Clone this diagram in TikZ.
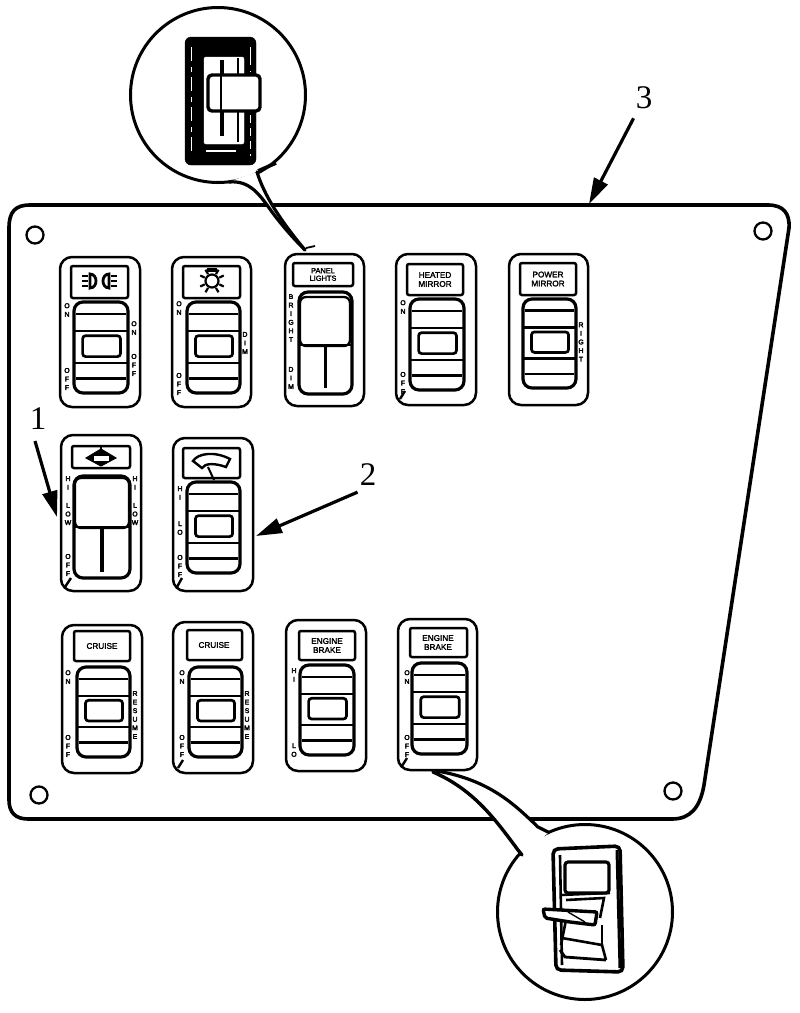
\documentclass[tikz,border=0pt]{standalone}
\usepackage{fontspec}
\setmainfont{Liberation Serif}
\setsansfont{Liberation Sans}
\newfontfamily\blotfont[FakeBold=2.2]{Liberation Sans}
\newfontfamily\sidefont[FakeBold=4]{Liberation Sans}
\usetikzlibrary{arrows.meta}
\tikzset{
  plate/.style={draw=black,line width=2.5pt,fill=white,rounded corners=12pt},
  labelbox/.style={draw=black,line width=2.5pt,fill=white,rounded corners=2pt},
  rockerbox/.style={draw=black,line width=3.2pt,fill=white,rounded corners=9pt},
  rockline/.style={draw=black,line width=2.3pt},
  hole/.style={draw=black,line width=2.3pt,fill=white,circle,minimum size=17pt,inner sep=0pt},
  panel/.style={draw=black,line width=3.6pt,fill=white,line join=round},
  callout/.style={draw=black,line width=3.2pt,line cap=round},
  pointer/.style={draw=black,line width=3.2pt,-{Triangle[length=26pt,width=15pt]}},
  numlabel/.style={font=\fontsize{33}{33}\selectfont,inner sep=0pt,text=black},
  sidetxt/.style={font=\sidefont\fontsize{6.8}{8.6}\selectfont,align=center,inner sep=0pt,text=black},
  captxt/.style={font=\blotfont\fontsize{8.2}{9}\selectfont,align=center,inner sep=0pt,text=black},
  cornermark/.style={draw=black,line width=2.4pt},
}
\newcommand{\swplate}[8]{%
  \draw[plate] (#1,#2) rectangle (#3,#4);
  \draw[labelbox] (#5,#6) rectangle (#7,#8);
}
\newcommand{\rockersw}[4]{%
  \pgfmathsetmacro\wunit{(#3-#1)/100}\pgfmathsetmacro\hunit{(#4-#2)/100}
  \begin{scope}[shift={(#1,#2)},x=\wunit pt,y=-\hunit pt]
    \draw[rockerbox] (0,0) rectangle (100,100);
    \draw[rockline] (4,13) -- (96,13);
    \draw[rockline] (2,32) -- (98,32);
    \draw[rockline,line width=2.7pt,rounded corners=3pt] (16,37) rectangle (86,60);
    \draw[rockline] (2,67) -- (98,67);
    \draw[rockline] (4,84) -- (96,84);
  \end{scope}
}
\newcommand{\slidesw}[5]{%
  \draw[rockerbox] (#1,#2) rectangle (#3,#4);
  \draw[rockline] (#1,#5) -- (#3,#5);
  \draw[line width=3.6pt] ({(#1+#3)/2},#5) -- ({(#1+#3)/2},{#4-6});
}
\begin{document}
\begin{tikzpicture}[x=1pt,y=-1pt]
\useasboundingbox (0,0) rectangle (800,1013);
\fill[white] (0,0) rectangle (800,1013);

% panel
\draw[panel] (9,228) .. controls (9,212) and (15,205) .. (30,205) -- (768,205)
  .. controls (783,205) and (790,213) .. (789,228) -- (704,785)
  .. controls (700,808) and (690,819) .. (672,819) -- (28,819)
  .. controls (15,819) and (9,812) .. (9,800) -- cycle;
\node[hole] (h1) at (35,235) {};
\node[hole] (h2) at (763,231) {};
\node[hole] (h3) at (39,795) {};
\node[hole] (h4) at (673,791) {};

% row 1
\swplate{60}{257}{140}{407}{71}{266}{128}{298}
\rockersw{74}{302}{128}{393}
\draw[line width=2.8pt] (90,274) .. controls (98,274) and (98,288) .. (90,288) -- cycle;
\draw[line width=2.8pt] (109,274) .. controls (101,274) and (101,288) .. (109,288) -- cycle;
\foreach \a in {276,281,286}{\draw[line width=2pt] (82,\a) -- (88,\a); \draw[line width=2pt] (111,\a) -- (117,\a);}
\node[sidetxt] (s1a) at (67,310) {O\\N};
\node[sidetxt] (s1b) at (67,379) {O\\F\\F};
\node[sidetxt] (s1c) at (134,328) {O\\N};
\node[sidetxt] (s1d) at (134,365) {O\\F\\F};

\swplate{172}{257}{251}{407}{183}{266}{240}{298}
\rockersw{187}{302}{240}{393}
\draw[line width=2.2pt,fill=white] (212,281) circle (6.5pt);
\foreach \a in {-60,-25,25,60,120,155,205,240}{\draw[line width=2.2pt] (212,281) ++(\a:8pt) -- ++(\a:5pt);}
\draw[line width=3.4pt] (207,270) -- (217,270);
\node[sidetxt] (s2a) at (179,308) {O\\N};
\node[sidetxt] (s2b) at (179,384) {O\\F\\F};
\node[sidetxt] (s2c) at (245,343) {D\\I\\M};

\swplate{285}{254}{364}{406}{293}{263}{353}{286}
\node[captxt,font=\blotfont\fontsize{7.4}{7.6}\selectfont] (c3) at (323,274.5) {PANEL\\LIGHTS};
\slidesw{299}{292}{352}{394}{345}
\draw[rockline,rounded corners=6pt] (300,297) rectangle (350,346);
\node[sidetxt] (s3a) at (291,318) {B\\R\\I\\G\\H\\T};
\node[sidetxt] (s3b) at (291,378) {D\\I\\M};

\swplate{396}{254}{476}{405}{407}{264}{463}{295}
\rockersw{410}{299}{464}{390}
\node[captxt] (c4) at (435,279.5) {HEATED\\MIRROR};
\node[sidetxt] (s4a) at (403,307) {O\\N};
\node[sidetxt] (s4b) at (403,383) {O\\F\\F};
\draw[cornermark] (400,399) -- (405,391);

\swplate{509}{254}{588}{405}{520}{263}{576}{295}
\rockersw{523}{299}{576}{388}
\node[captxt] (c5) at (548,279) {POWER\\MIRROR};
\node[sidetxt] (s5a) at (581,342) {R\\I\\G\\H\\T};

% row 2
\swplate{61}{435}{141}{591}{72}{446}{130}{468}
\draw[draw=black,line width=1pt,fill=black] (86,458) -- (101,449) -- (116,458) -- (101,466) -- cycle;
\draw[fill=white,draw=white] (94,456) rectangle (108,460);
\draw[line width=2.4pt] (101,446) -- (101,450);
\slidesw{74}{476}{130}{578}{527}
\draw[rockline,rounded corners=6pt] (75,478) rectangle (129,528);
\node[sidetxt] (s6a) at (68,483) {H\\I};
\node[sidetxt] (s6b) at (68,514) {L\\O\\W};
\node[sidetxt] (s6c) at (68,565) {O\\F\\F};
\node[sidetxt] (s6d) at (135,483) {H\\I};
\node[sidetxt] (s6e) at (135,514) {L\\O\\W};
\draw[cornermark] (65,587) -- (71,578);

\swplate{173}{438}{253}{591}{183}{448}{240}{478}
\draw[line width=2.4pt,fill=white] (193,461) .. controls (198,453) and (215,451) .. (230,459) -- (226,467) .. controls (215,463) and (205,463) .. (202,468) -- cycle;
\draw[line width=2pt] (208,467) -- (214,480);
\rockersw{187}{482}{240}{573}
\node[sidetxt] (s7a) at (180,493) {H\\I};
\node[sidetxt] (s7b) at (180,528) {L\\O};
\node[sidetxt] (s7c) at (180,566) {O\\F\\F};
\draw[cornermark] (177,587) -- (182,578);

% row 3
\swplate{62}{625}{142}{773}{74}{631}{130}{661}
\rockersw{77}{667}{130}{757}
\node[captxt] (c8) at (102,646) {CRUISE};
\node[sidetxt] (s8a) at (68,677) {O\\N};
\node[sidetxt] (s8b) at (68,746) {O\\F\\F};
\node[sidetxt] (s8c) at (135,715) {R\\E\\S\\U\\M\\E};

\swplate{173}{622}{253}{773}{187}{630}{242}{660}
\rockersw{189}{667}{242}{757}
\node[captxt] (c9) at (214,645) {CRUISE};
\node[sidetxt] (s9a) at (182,677) {O\\N};
\node[sidetxt] (s9b) at (182,746) {O\\F\\F};
\node[sidetxt] (s9c) at (247,715) {R\\E\\S\\U\\M\\E};
\draw[cornermark] (178,768) -- (183,760);

\swplate{286}{620}{366}{771}{299}{631}{355}{660}
\rockersw{300}{665}{354}{755}
\node[captxt] (c10) at (327,645.5) {ENGINE\\BRAKE};
\node[sidetxt] (s10a) at (294,675) {H\\I};
\node[sidetxt] (s10b) at (294,750) {L\\O};

\swplate{398}{619}{477}{770}{410}{628}{467}{657}
\rockersw{412}{663}{467}{754}
\node[captxt] (c11) at (438,642.5) {ENGINE\\BRAKE};
\node[sidetxt] (s11a) at (407,677) {O\\N};
\node[sidetxt] (s11b) at (407,746) {O\\F\\F};
\draw[cornermark] (402,766) -- (407,758);

% callout top
\draw[line width=3pt,fill=white] (218,95) circle (87.5pt);
\fill[white] (231,181) .. controls (262,182) and (280,228) .. (305,250) .. controls (285,225) and (268,200) .. (257,172) -- cycle;
\draw[callout] (229,182) .. controls (250,180) and (260,195) .. (272,212) .. controls (284,228) and (295,240) .. (305,250);
\draw[callout] (257,172) .. controls (264,195) and (280,220) .. (305,250);
\draw[line width=3.6pt] (258,171) -- (276,163);
\draw[line width=1.8pt] (306,248) -- (315,246);
\draw[draw=black,fill=black,rounded corners=6pt] (185,37) rectangle (256,165);
\draw[white,line width=.8pt,dash pattern=on 14pt off 6pt on 5pt off 5pt] (191,47) -- (191,156);
\draw[white,line width=.8pt,dash pattern=on 18pt off 6pt] (250,47) -- (250,72);
\draw[white,line width=.8pt,dash pattern=on 8pt off 5pt] (250,115) -- (250,156);
\draw[fill=white,draw=white,rounded corners=2pt] (204,57) rectangle (244,144);
\draw[white,line width=1.2pt] (206,151) -- (236,151);
\draw[line width=1.6pt] (238,58) -- (238,142);
\draw[line width=4pt] (222,60) -- (222,136);
\draw[line width=3.4pt,fill=white,rounded corners=4pt] (208,75) rectangle (260,111);
\draw[line width=2.4pt] (221,76) -- (221,110);

% callout bottom
\draw[line width=3pt,fill=white] (585,912) circle (87.5pt);
\fill[white] (433,772) -- (457,775) .. controls (500,793) and (525,815) .. (548,833) -- (522,856) .. controls (505,828) and (475,792) .. (433,772) -- cycle;
\draw[callout,line width=3.4pt] (433,772) .. controls (475,790) and (497,822) .. (518,850) -- (522,855);
\draw[callout] (437,771) .. controls (490,780) and (515,805) .. (538,827) -- (548,832);
\draw[line width=3.6pt,fill=white,rounded corners=5pt] (553,849) -- (620,846) -- (623,972) -- (556,970) -- cycle;
\draw[line width=3.2pt,rounded corners=3pt] (565,862) rectangle (609,893);
\draw[line width=2.4pt] (562,895) -- (610,893);
\draw[line width=3pt] (617,850) -- (620,968);
\draw[line width=2.6pt] (560,855) -- (562,965);
\draw[line width=2.6pt] (566,900) -- (604,898) -- (600,918);
\draw[line width=2.6pt] (562,938) -- (602,945) -- (606,960);
\draw[line width=2.8pt] (560,950) -- (565,957) -- (606,960);
\draw[line width=2.6pt] (566,920) -- (561,945);
\draw[line width=2.4pt] (602,925) -- (602,945);
\draw[line width=3.4pt,fill=white,rounded corners=2pt] (543,909) -- (597,912) -- (595,925) -- (570,922) -- (545,918) -- cycle;
\draw[line width=1.4pt] (568,912) -- (585,922);

% numbered pointers
\node[numlabel] (n1) at (38,419) {1};
\node[numlabel] (n2) at (368,475) {2};
\node[numlabel] (n3) at (644,98) {3};
\coordinate (t1) at (57,517);
\coordinate (t2) at (256,536);
\coordinate (t3) at (589,204);
\draw[pointer] (35,441) -- (t1);
\draw[pointer] (n2.south west)++(-2,6) -- (t2);
\draw[pointer] (n3.south west)++(-2,9) -- (t3);
\end{tikzpicture}
\end{document}
